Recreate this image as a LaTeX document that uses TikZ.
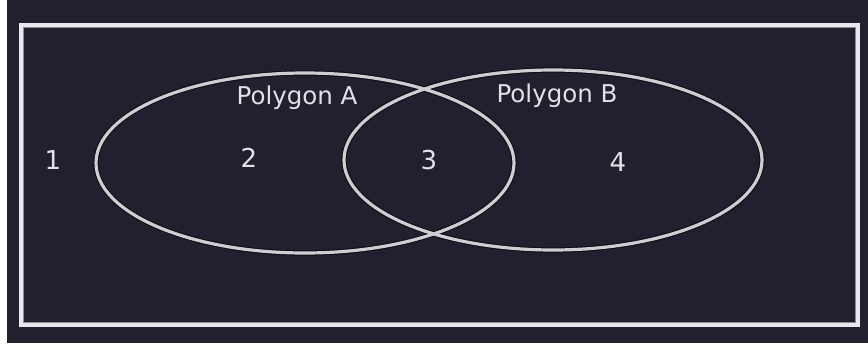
\documentclass[tikz,border=0pt]{standalone}
\usepackage{fontspec}
\setmainfont{DejaVu Sans}
\begin{document}
\begin{tikzpicture}[x=1pt,y=-1pt,
  bgdark/.style={fill={rgb,255:red,33;green,32;blue,46}},
  frameline/.style={draw={rgb,255:red,232;green,232;blue,236},line width=3.6pt},
  frameinner/.style={draw={rgb,255:red,140;green,140;blue,150},line width=1pt},
  ellline/.style={draw={rgb,255:red,205;green,205;blue,210},line width=3.2pt},
  shadowline/.style={draw={rgb,255:red,12;green,12;blue,20},line width=5.2pt},
  lbl/.style={text={rgb,255:red,225;green,225;blue,230},font=\fontsize{24.5}{28}\selectfont,inner sep=0pt},
  num/.style={text={rgb,255:red,225;green,225;blue,230},font=\fontsize{26}{30}\selectfont,inner sep=0pt}]
\useasboundingbox (0,0) rectangle (868,343);
\fill[white] (0,0) rectangle (868,343);
\path[bgdark] (7,0) rectangle (868,343);
% frame
\draw[frameline] (21,25) rectangle (858,325);
\draw[frameinner] (23.8,27.8) rectangle (855.2,322.2);
% ellipses
\draw[shadowline] (305,163) ellipse [x radius=209, y radius=90];
\draw[shadowline] (553,160) ellipse [x radius=209, y radius=90];
\draw[ellline] (305,163) ellipse [x radius=209, y radius=90];
\draw[ellline] (553,160) ellipse [x radius=209, y radius=90];
% labels
\node[lbl] (la) at (297,98) {Polygon A};
\node[lbl] (lb) at (557,96) {Polygon B};
\node[num] (n1) at (53,160) {1};
\node[num] (n2) at (249,158) {2};
\node[num] (n3) at (429,160) {3};
\node[num] (n4) at (618,162) {4};
\end{tikzpicture}
\end{document}
